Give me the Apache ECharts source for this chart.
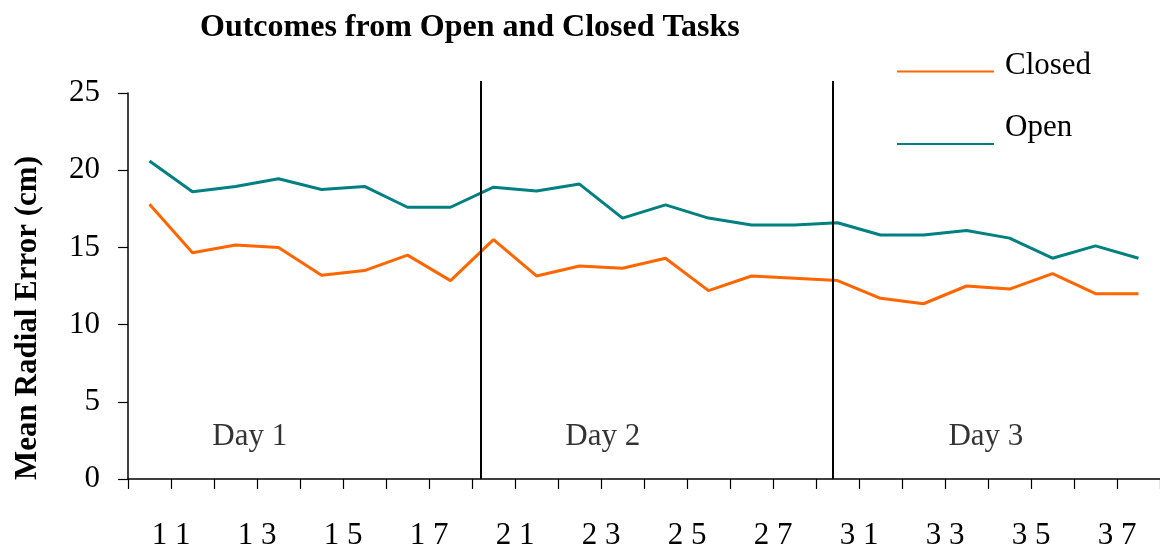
<!DOCTYPE html>
<html>
<head>
<meta charset="utf-8">
<title>Outcomes from Open and Closed Tasks</title>
<script src="https://cdn.jsdelivr.net/npm/echarts@6/dist/echarts.min.js"></script>
<style>
  html, body { margin: 0; padding: 0; background: #fff; }
  #chart { width: 1160px; height: 544px; }
</style>
</head>
<body>
<div id="chart"></div>
<script>
// trials: day + trial number
const categories = [
  '1 1', '1 2', '1 3', '1 4', '1 5', '1 6', '1 7', '1 8',
  '2 1', '2 2', '2 3', '2 4', '2 5', '2 6', '2 7', '2 8',
  '3 1', '3 2', '3 3', '3 4', '3 5', '3 6', '3 7', '3 8'
]
const closedValues = [
  17.8, 14.65, 15.15, 15.0, 13.2, 13.5, 14.5, 12.85,
  15.5, 13.15, 13.8, 13.65, 14.3, 12.2, 13.15, 13.0,
  12.85, 11.7, 11.35, 12.5, 12.3, 13.3, 12.0, 12.0
]
const openValues = [
  20.6, 18.6, 18.95, 19.45, 18.75, 18.95, 17.6, 17.6,
  18.9, 18.65, 19.1, 16.9, 17.75, 16.9, 16.45, 16.45,
  16.6, 15.8, 15.8, 16.1, 15.6, 14.3, 15.1, 14.3
]
// day separators and day labels, in trial units along the axis
const dayBreaks = [8.21, 16.4]
const dayNames = ['Day 1', 'Day 2', 'Day 3']
const dayLabelX = [2.83, 11.04, 19.95]
const dayLabelY = 2.74
const yTicks = [0, 5, 10, 15, 20, 25]

const serif = "'Liberation Serif', 'Times New Roman', serif"

// legend text sits above its line, by a different amount per item
function legendFor(name, top, lift) {
  return {
    data: [name],
    left: 897,
    top: top,
    padding: 0,
    itemWidth: 97,
    itemHeight: 14,
    icon: 'path://M0,6L100,6L100,8L0,8Z',
    formatter: function(n) {
      return '{t|' + n + '}'
    },
    textStyle: {
      rich: {
        t: {
          color: '#000',
          fontFamily: serif,
          fontSize: 31,
          padding: [0, 0, lift, 6]
        }
      }
    }
  }
}

var myChart = echarts.init(document.getElementById('chart'))
const option = {
  animation: false,
  title: {
    text: 'Outcomes from Open and Closed Tasks',
    left: 195,
    top: 7,
    textStyle: {
      color: '#000',
      fontFamily: serif,
      fontWeight: 'bold',
      fontSize: 32
    }
  },
  legend: [
    legendFor('Closed', 50, 12),
    legendFor('Open', 112, 33)
  ],
  grid: [
    { left: 128, right: 0, top: 93, bottom: 65, outerBoundsMode: 'none' },
    { left: 128, right: 0, top: 81, bottom: 65, outerBoundsMode: 'none' }
  ],
  xAxis: [
    {
      type: 'category',
      gridIndex: 0,
      data: categories,
      boundaryGap: true,
      axisLine: { lineStyle: { color: '#000', width: 1.5 } },
      axisTick: { show: true, interval: 0, length: 10, lineStyle: { color: '#000', width: 1.2 } },
      axisLabel: {
        interval: 1,
        margin: 41,
        color: '#000',
        fontFamily: serif,
        fontSize: 31,
        padding: [0, 0, 0, 43]
      },
      splitLine: { show: false }
    },
    {
      type: 'value',
      gridIndex: 1,
      min: 0,
      max: 24,
      show: false
    }
  ],
  yAxis: [
    {
      type: 'value',
      gridIndex: 0,
      min: 0,
      max: 25,
      interval: 5,
      name: 'Mean Radial Error (cm)',
      nameLocation: 'middle',
      nameGap: 85,
      nameTextStyle: {
        color: '#000',
        fontFamily: serif,
        fontWeight: 'bold',
        fontSize: 31,
        padding: [0, 64, 0, 0]
      },
      axisLine: { show: true, lineStyle: { color: '#000', width: 1.5 } },
      axisTick: { show: true, length: 10, lineStyle: { color: '#000', width: 1.2 } },
      axisLabel: {
        margin: 28,
        color: '#000',
        fontFamily: serif,
        fontSize: 31,
        formatter: function(v) {
          return yTicks.indexOf(v) >= 0 ? String(v) : ''
        }
      },
      splitLine: { show: false }
    },
    {
      type: 'value',
      gridIndex: 1,
      min: 0,
      max: 25.8,
      show: false
    }
  ],
  series: [
    {
      name: 'Closed',
      type: 'line',
      data: closedValues,
      symbol: 'none',
      color: '#FF6600',
      lineStyle: { color: '#FF6600', width: 3 }
    },
    {
      name: 'Open',
      type: 'line',
      data: openValues,
      symbol: 'none',
      color: '#008080',
      lineStyle: { color: '#008080', width: 3 }
    },
    {
      name: 'days',
      type: 'scatter',
      xAxisIndex: 1,
      yAxisIndex: 1,
      symbolSize: 0,
      data: dayNames.map(function(n, i) {
        return { name: n, value: [dayLabelX[i], dayLabelY] }
      }),
      label: {
        show: true,
        position: 'inside',
        formatter: '{b}',
        color: '#000',
        fontFamily: serif,
        fontSize: 31
      },
      markLine: {
        silent: true,
        symbol: 'none',
        label: { show: false },
        lineStyle: { color: '#000', width: 2, type: 'solid' },
        data: dayBreaks.map(function(x) {
          return [{ coord: [x, 0] }, { coord: [x, 25.8] }]
        })
      }
    }
  ]
}
myChart.setOption(option)
</script>
</body>
</html>
